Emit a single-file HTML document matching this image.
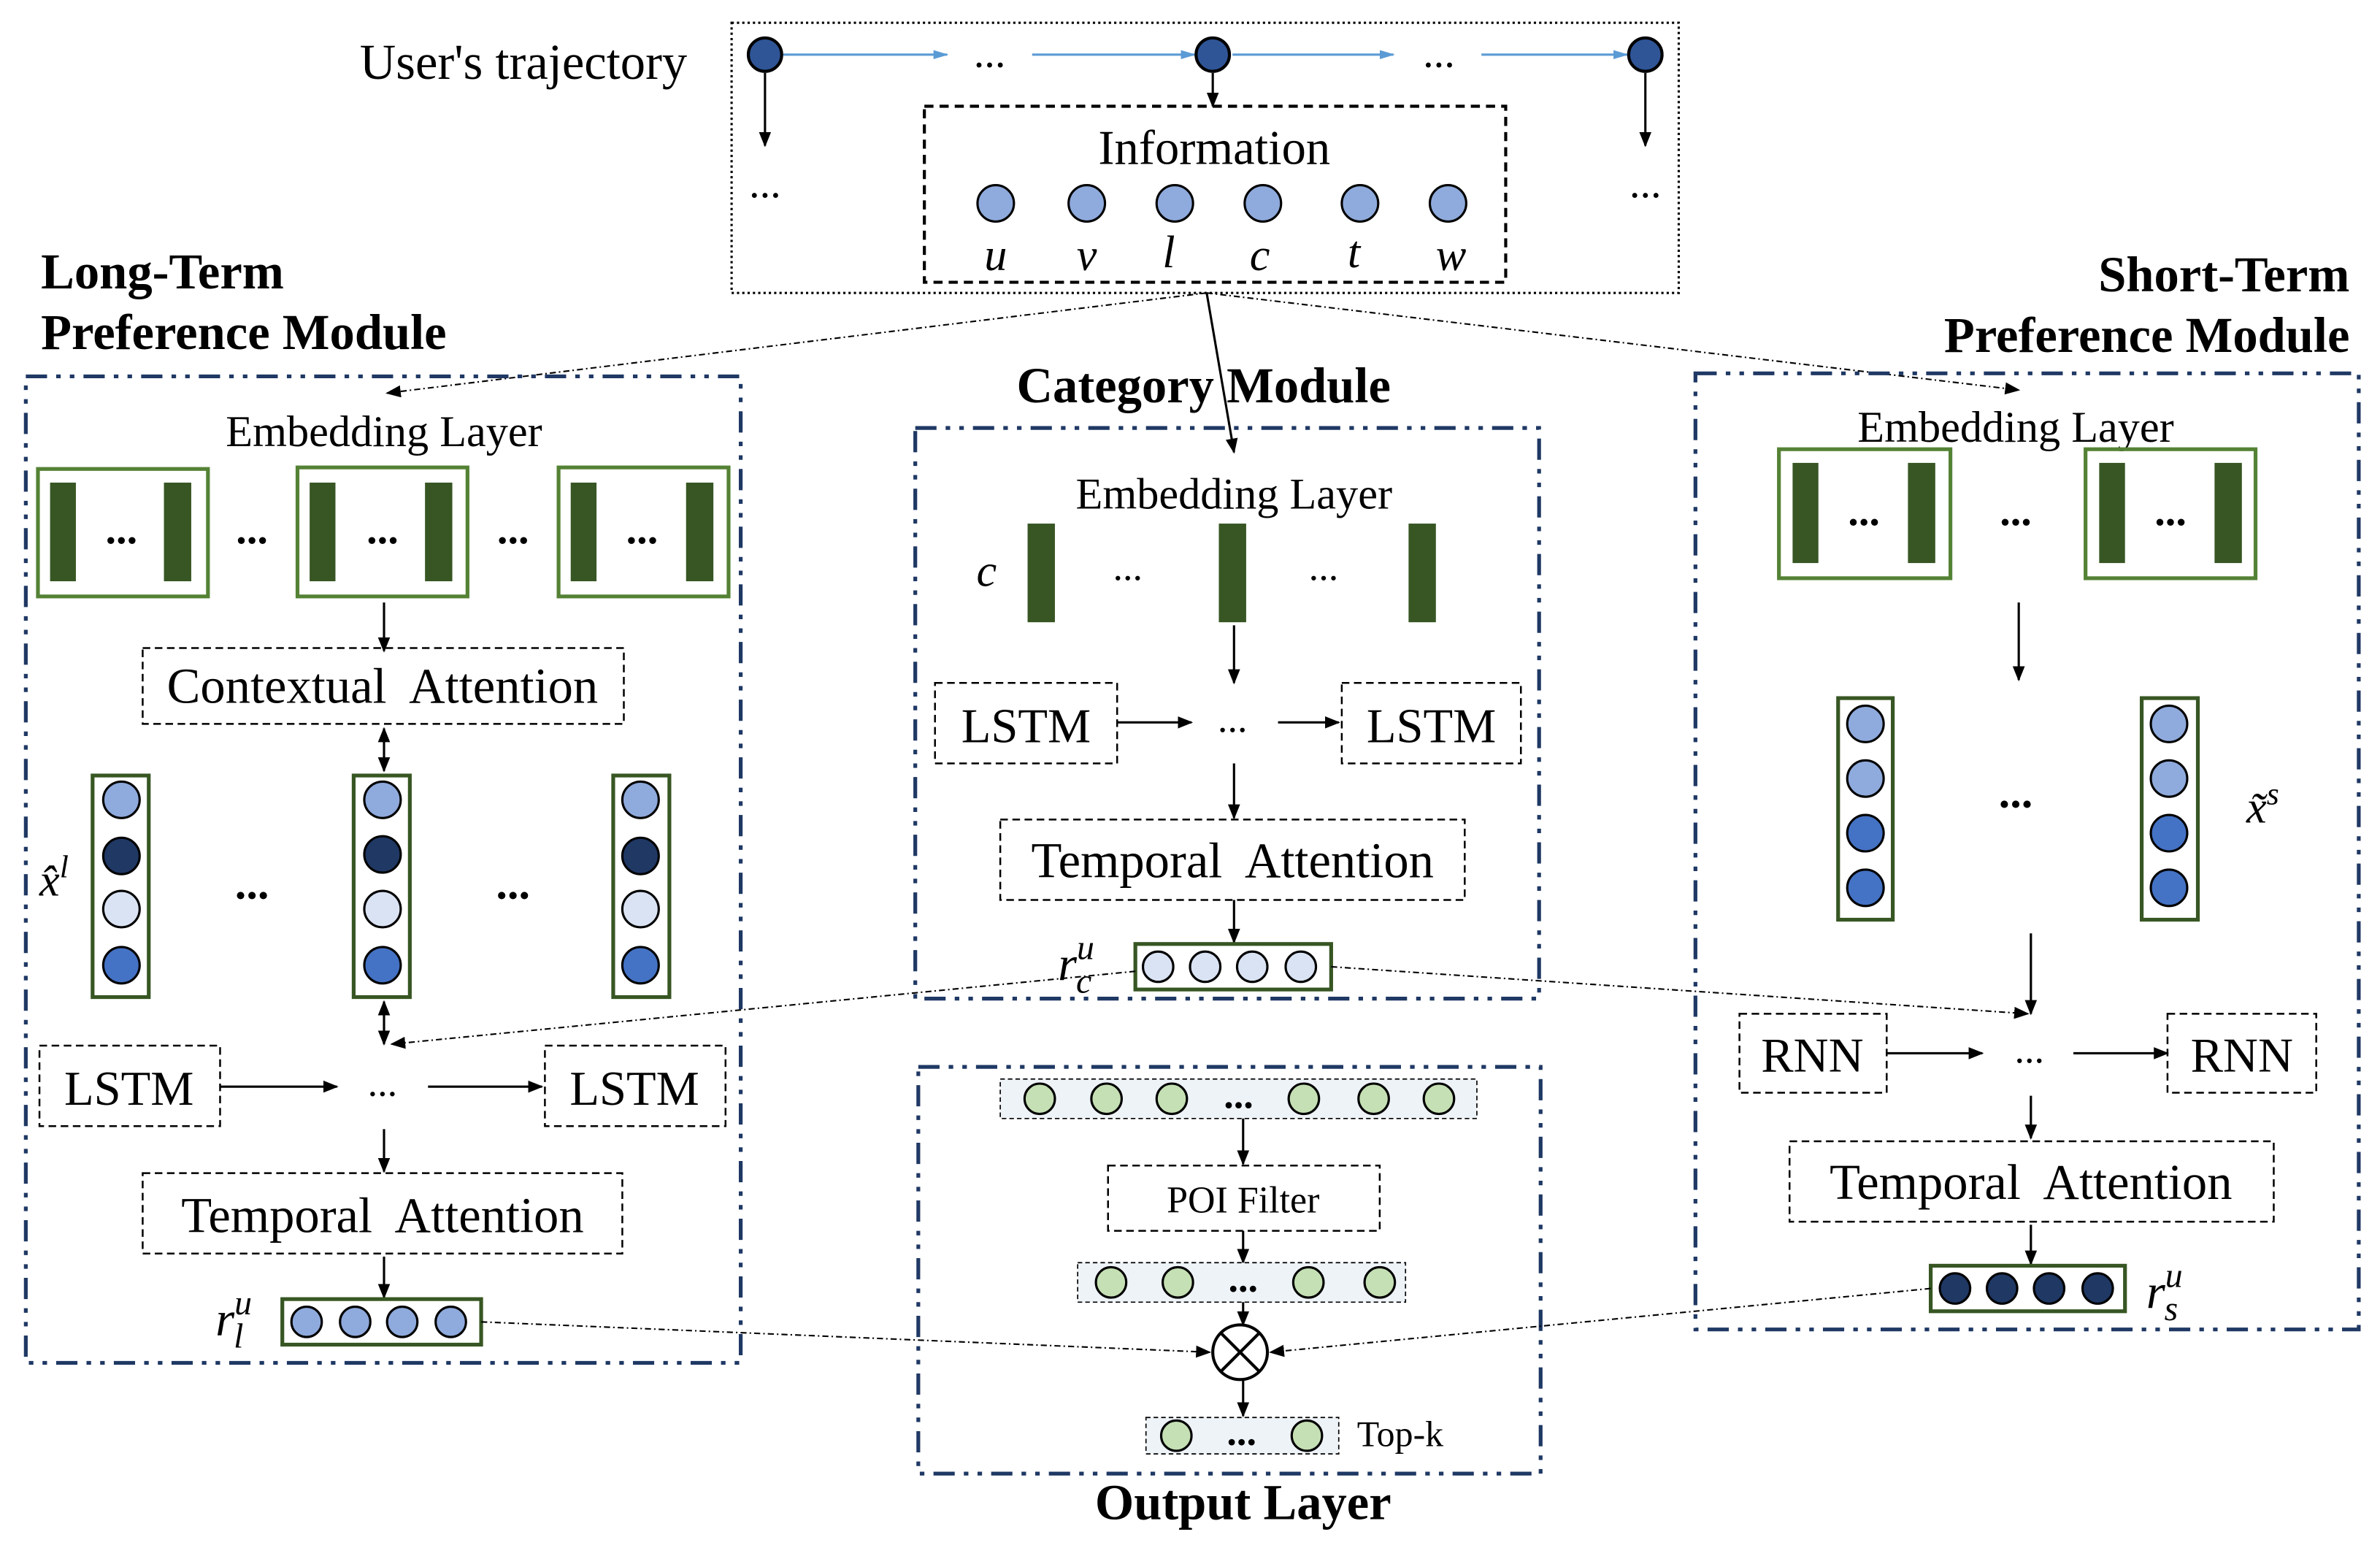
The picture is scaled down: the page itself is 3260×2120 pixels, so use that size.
<!DOCTYPE html>
<html><head><meta charset="utf-8"><style>
html,body{margin:0;padding:0;background:#fff;}
svg{display:block;}
text{font-family:"Liberation Serif",serif;fill:#000;}
</style></head><body>
<svg width="3260" height="2120" viewBox="0 0 1568 1020" preserveAspectRatio="none" xmlns="http://www.w3.org/2000/svg">
<defs>
<marker id="a" markerWidth="10" markerHeight="10" refX="9" refY="5" orient="auto" markerUnits="userSpaceOnUse"><path d="M0,1 L10,5 L0,9 Z" fill="#000"/></marker>
<marker id="as" markerWidth="10" markerHeight="10" refX="1" refY="5" orient="auto" markerUnits="userSpaceOnUse"><path d="M10,1 L0,5 L10,9 Z" fill="#000"/></marker>
<marker id="b" markerWidth="10" markerHeight="10" refX="9" refY="5" orient="auto" markerUnits="userSpaceOnUse"><path d="M0,2 L10,5 L0,8 Z" fill="#5b9bd5"/></marker>
</defs>
<rect width="1568" height="1020" fill="#fff"/>

<!-- TOP -->
<text x="237" y="52" font-size="33">User's trajectory</text>
<rect x="482" y="15" width="624" height="178" fill="none" stroke="#000" stroke-width="1.5" stroke-dasharray="1.5,2"/>
<g stroke="#5b9bd5" stroke-width="1.5" marker-end="url(#b)">
<line x1="516" y1="36" x2="624" y2="36"/><line x1="680" y1="36" x2="787" y2="36"/>
<line x1="812" y1="36" x2="918" y2="36"/><line x1="976" y1="36" x2="1072" y2="36"/></g>
<text x="652" y="44" font-size="28" text-anchor="middle">...</text>
<text x="948" y="44" font-size="28" text-anchor="middle">...</text>
<g fill="#2f5597" stroke="#000" stroke-width="2"><circle cx="504" cy="36" r="11"/><circle cx="799" cy="36" r="11"/><circle cx="1084" cy="36" r="11"/></g>
<g stroke="#000" stroke-width="1.5" marker-end="url(#a)">
<line x1="504" y1="48" x2="504" y2="96"/><line x1="799" y1="48" x2="799" y2="70"/><line x1="1084" y1="48" x2="1084" y2="96"/></g>
<text x="504" y="130" font-size="28" text-anchor="middle">...</text>
<text x="1084" y="130" font-size="28" text-anchor="middle">...</text>
<rect x="609" y="70" width="383" height="116" fill="none" stroke="#000" stroke-width="2" stroke-dasharray="6,4"/>
<text x="800" y="108" font-size="32" text-anchor="middle">Information</text>
<g fill="#8faadc" stroke="#000" stroke-width="1.5">
<circle cx="656" cy="134" r="12"/><circle cx="716" cy="134" r="12"/><circle cx="774" cy="134" r="12"/><circle cx="832" cy="134" r="12"/><circle cx="896" cy="134" r="12"/><circle cx="954" cy="134" r="12"/></g>
<g font-size="30" font-style="italic" text-anchor="middle">
<text x="656" y="178">u</text><text x="716" y="178">v</text><text x="770" y="176">l</text><text x="830" y="178">c</text><text x="892" y="176">t</text><text x="956" y="178">w</text></g>

<g stroke="#000" stroke-width="1" stroke-dasharray="4,2,1,2" fill="none">
<line x1="795" y1="193" x2="255" y2="259" marker-end="url(#a)"/>
<line x1="795" y1="193" x2="1330" y2="257" marker-end="url(#a)"/>
</g>
<line x1="795" y1="193" x2="813" y2="298" stroke="#000" stroke-width="1.5" marker-end="url(#a)"/>

<!-- LONG TERM -->
<text x="27" y="190" font-size="33" font-weight="bold">Long-Term</text>
<text x="27" y="230" font-size="33" font-weight="bold">Preference Module</text>
<rect x="17" y="248" width="471" height="650" fill="none" stroke="#1f3864" stroke-width="2.5" stroke-dasharray="14,6,3,6,3,6"/>
<text x="253" y="294" font-size="29" text-anchor="middle">Embedding Layer</text>
<g fill="none" stroke="#548235" stroke-width="2.5">
<rect x="25" y="309" width="112" height="84"/><rect x="196" y="308" width="112" height="85"/><rect x="368" y="308" width="112" height="85"/></g>
<g fill="#375623">
<rect x="33" y="318" width="17" height="65"/><rect x="108" y="318" width="18" height="65"/>
<rect x="204" y="318" width="17" height="65"/><rect x="280" y="318" width="18" height="65"/>
<rect x="376" y="318" width="17" height="65"/><rect x="452" y="318" width="18" height="65"/></g>
<g font-size="28" text-anchor="middle" font-weight="bold">
<text x="80" y="358">...</text><text x="166" y="358">...</text><text x="252" y="358">...</text><text x="338" y="358">...</text><text x="423" y="358">...</text></g>
<line x1="253" y1="397" x2="253" y2="429" stroke="#000" stroke-width="1.5" marker-end="url(#a)"/>
<rect x="94" y="427" width="317" height="50" fill="none" stroke="#000" stroke-width="1.2" stroke-dasharray="5,3"/>
<text x="252" y="463" font-size="33" text-anchor="middle" xml:space="preserve">Contextual  Attention</text>
<line x1="253" y1="480" x2="253" y2="508" stroke="#000" stroke-width="1.5" marker-end="url(#a)" marker-start="url(#as)"/>
<g fill="none" stroke="#375623" stroke-width="2.5">
<rect x="61" y="511" width="37" height="146"/><rect x="233" y="511" width="37" height="146"/><rect x="404" y="511" width="37" height="146"/></g>
<g stroke="#000" stroke-width="1.5">
<g fill="#8faadc"><circle cx="80" cy="527" r="12"/><circle cx="252" cy="527" r="12"/><circle cx="422" cy="527" r="12"/></g>
<g fill="#1f3864"><circle cx="80" cy="564" r="12"/><circle cx="252" cy="563" r="12"/><circle cx="422" cy="564" r="12"/></g>
<g fill="#dae3f3"><circle cx="80" cy="599" r="12"/><circle cx="252" cy="599" r="12"/><circle cx="422" cy="599" r="12"/></g>
<g fill="#4472c4"><circle cx="80" cy="636" r="12"/><circle cx="252" cy="636" r="12"/><circle cx="422" cy="636" r="12"/></g></g>
<text x="166" y="592" font-size="30" font-weight="bold" text-anchor="middle">...</text>
<text x="338" y="592" font-size="30" font-weight="bold" text-anchor="middle">...</text>
<text x="26" y="590" font-size="30" font-style="italic">x̂<tspan dy="-12" font-size="21">l</tspan></text>
<line x1="253" y1="660" x2="253" y2="688" stroke="#000" stroke-width="1.5" marker-end="url(#a)" marker-start="url(#as)"/>
<rect x="26" y="689" width="119" height="53" fill="none" stroke="#000" stroke-width="1.2" stroke-dasharray="5,3"/>
<rect x="359" y="689" width="119" height="53" fill="none" stroke="#000" stroke-width="1.2" stroke-dasharray="5,3"/>
<text x="85" y="728" font-size="32" text-anchor="middle">LSTM</text>
<text x="418" y="728" font-size="32" text-anchor="middle">LSTM</text>
<line x1="145" y1="716" x2="222" y2="716" stroke="#000" stroke-width="1.5" marker-end="url(#a)"/>
<line x1="282" y1="716" x2="357" y2="716" stroke="#000" stroke-width="1.5" marker-end="url(#a)"/>
<text x="252" y="722" font-size="26" text-anchor="middle">...</text>
<line x1="253" y1="744" x2="253" y2="772" stroke="#000" stroke-width="1.5" marker-end="url(#a)"/>
<rect x="94" y="773" width="316" height="53" fill="none" stroke="#000" stroke-width="1.2" stroke-dasharray="5,3"/>
<text x="252" y="812" font-size="33" text-anchor="middle" xml:space="preserve">Temporal  Attention</text>
<line x1="253" y1="828" x2="253" y2="855" stroke="#000" stroke-width="1.5" marker-end="url(#a)"/>
<text x="142" y="880" font-size="32" font-style="italic">r<tspan dy="-14" font-size="23">u</tspan><tspan dx="-12" dy="22" font-size="23">l</tspan></text>
<rect x="186" y="856" width="131" height="30" fill="none" stroke="#375623" stroke-width="2.5"/>
<g fill="#8faadc" stroke="#000" stroke-width="1.5"><circle cx="202" cy="871" r="10"/><circle cx="234" cy="871" r="10"/><circle cx="265" cy="871" r="10"/><circle cx="297" cy="871" r="10"/></g>

<!-- CATEGORY -->
<text x="793" y="265" font-size="33" font-weight="bold" text-anchor="middle">Category Module</text>
<rect x="603" y="282" width="411" height="376" fill="none" stroke="#1f3864" stroke-width="2.5" stroke-dasharray="14,6,3,6,3,6"/>
<text x="813" y="335" font-size="29" text-anchor="middle">Embedding Layer</text>
<text x="650" y="386" font-size="30" font-style="italic" text-anchor="middle">c</text>
<g fill="#375623"><rect x="677" y="345" width="18" height="65"/><rect x="803" y="345" width="18" height="65"/><rect x="928" y="345" width="18" height="65"/></g>
<text x="743" y="382" font-size="26" text-anchor="middle">...</text>
<text x="872" y="382" font-size="26" text-anchor="middle">...</text>
<line x1="813" y1="412" x2="813" y2="450" stroke="#000" stroke-width="1.5" marker-end="url(#a)"/>
<rect x="616" y="450" width="120" height="53" fill="none" stroke="#000" stroke-width="1.2" stroke-dasharray="5,3"/>
<rect x="884" y="450" width="118" height="53" fill="none" stroke="#000" stroke-width="1.2" stroke-dasharray="5,3"/>
<text x="676" y="489" font-size="32" text-anchor="middle">LSTM</text>
<text x="943" y="489" font-size="32" text-anchor="middle">LSTM</text>
<line x1="736" y1="476" x2="785" y2="476" stroke="#000" stroke-width="1.5" marker-end="url(#a)"/>
<line x1="842" y1="476" x2="882" y2="476" stroke="#000" stroke-width="1.5" marker-end="url(#a)"/>
<text x="812" y="482" font-size="26" text-anchor="middle">...</text>
<line x1="813" y1="503" x2="813" y2="539" stroke="#000" stroke-width="1.5" marker-end="url(#a)"/>
<rect x="659" y="540" width="306" height="53" fill="none" stroke="#000" stroke-width="1.2" stroke-dasharray="5,3"/>
<text x="812" y="578" font-size="33" text-anchor="middle" xml:space="preserve">Temporal  Attention</text>
<line x1="813" y1="593" x2="813" y2="621" stroke="#000" stroke-width="1.5" marker-end="url(#a)"/>
<text x="697" y="646" font-size="32" font-style="italic">r<tspan dy="-14" font-size="23">u</tspan><tspan dx="-12" dy="22" font-size="23">c</tspan></text>
<rect x="748" y="622" width="129" height="30" fill="none" stroke="#375623" stroke-width="2.5"/>
<g fill="#dae3f3" stroke="#000" stroke-width="1.5"><circle cx="763" cy="637" r="10"/><circle cx="794" cy="637" r="10"/><circle cx="825" cy="637" r="10"/><circle cx="857" cy="637" r="10"/></g>

<!-- SHORT TERM -->
<text x="1548" y="192" font-size="33" font-weight="bold" text-anchor="end">Short-Term</text>
<text x="1548" y="232" font-size="33" font-weight="bold" text-anchor="end">Preference Module</text>
<rect x="1117" y="246" width="437" height="630" fill="none" stroke="#1f3864" stroke-width="2.5" stroke-dasharray="14,6,3,6,3,6"/>
<text x="1328" y="291" font-size="29" text-anchor="middle">Embedding Layer</text>
<g fill="none" stroke="#548235" stroke-width="2.5"><rect x="1172" y="296" width="113" height="85"/><rect x="1374" y="296" width="112" height="85"/></g>
<g fill="#375623"><rect x="1181" y="305" width="17" height="66"/><rect x="1257" y="305" width="18" height="66"/><rect x="1383" y="305" width="17" height="66"/><rect x="1459" y="305" width="18" height="66"/></g>
<g font-size="28" text-anchor="middle" font-weight="bold"><text x="1228" y="346">...</text><text x="1328" y="346">...</text><text x="1430" y="346">...</text></g>
<line x1="1330" y1="397" x2="1330" y2="448" stroke="#000" stroke-width="1.5" marker-end="url(#a)"/>
<g fill="none" stroke="#375623" stroke-width="2.5"><rect x="1211" y="460" width="36" height="146"/><rect x="1411" y="460" width="37" height="146"/></g>
<g stroke="#000" stroke-width="1.5">
<g fill="#8faadc"><circle cx="1229" cy="477" r="12"/><circle cx="1229" cy="513" r="12"/><circle cx="1429" cy="477" r="12"/><circle cx="1429" cy="513" r="12"/></g>
<g fill="#4472c4"><circle cx="1229" cy="549" r="12"/><circle cx="1229" cy="585" r="12"/><circle cx="1429" cy="549" r="12"/><circle cx="1429" cy="585" r="12"/></g></g>
<text x="1328" y="532" font-size="30" font-weight="bold" text-anchor="middle">...</text>
<text x="1480" y="542" font-size="30" font-style="italic">x̃<tspan dy="-12" font-size="21">s</tspan></text>
<line x1="1338" y1="615" x2="1338" y2="668" stroke="#000" stroke-width="1.5" marker-end="url(#a)"/>
<rect x="1146" y="668" width="97" height="52" fill="none" stroke="#000" stroke-width="1.2" stroke-dasharray="5,3"/>
<rect x="1428" y="668" width="98" height="52" fill="none" stroke="#000" stroke-width="1.2" stroke-dasharray="5,3"/>
<text x="1194" y="706" font-size="32" text-anchor="middle">RNN</text>
<text x="1477" y="706" font-size="32" text-anchor="middle">RNN</text>
<line x1="1243" y1="694" x2="1306" y2="694" stroke="#000" stroke-width="1.5" marker-end="url(#a)"/>
<line x1="1366" y1="694" x2="1428" y2="694" stroke="#000" stroke-width="1.5" marker-end="url(#a)"/>
<text x="1337" y="700" font-size="26" text-anchor="middle">...</text>
<line x1="1338" y1="722" x2="1338" y2="750" stroke="#000" stroke-width="1.5" marker-end="url(#a)"/>
<rect x="1179" y="752" width="319" height="53" fill="none" stroke="#000" stroke-width="1.2" stroke-dasharray="5,3"/>
<text x="1338" y="790" font-size="33" text-anchor="middle" xml:space="preserve">Temporal  Attention</text>
<line x1="1338" y1="807" x2="1338" y2="833" stroke="#000" stroke-width="1.5" marker-end="url(#a)"/>
<rect x="1272" y="834" width="128" height="30" fill="none" stroke="#375623" stroke-width="2.5"/>
<g fill="#1f3864" stroke="#000" stroke-width="1.5"><circle cx="1288" cy="849" r="10"/><circle cx="1319" cy="849" r="10"/><circle cx="1350" cy="849" r="10"/><circle cx="1382" cy="849" r="10"/></g>
<text x="1414" y="862" font-size="32" font-style="italic">r<tspan dy="-14" font-size="23">u</tspan><tspan dx="-12" dy="22" font-size="23">s</tspan></text>

<!-- OUTPUT -->
<rect x="605" y="703" width="410" height="268" fill="none" stroke="#1f3864" stroke-width="2.5" stroke-dasharray="14,6,3,6,3,6"/>
<text x="819" y="1001" font-size="33" font-weight="bold" text-anchor="middle">Output Layer</text>
<rect x="659" y="711" width="314" height="26" fill="#eef3f8" stroke="#000" stroke-width="0.8" stroke-dasharray="3,2"/>
<g fill="#c5e0b4" stroke="#000" stroke-width="1.5">
<circle cx="685" cy="724" r="10"/><circle cx="729" cy="724" r="10"/><circle cx="772" cy="724" r="10"/><circle cx="859" cy="724" r="10"/><circle cx="905" cy="724" r="10"/><circle cx="948" cy="724" r="10"/></g>
<text x="816" y="730" font-size="26" font-weight="bold" text-anchor="middle">...</text>
<line x1="819" y1="737" x2="819" y2="767" stroke="#000" stroke-width="1.5" marker-end="url(#a)"/>
<rect x="730" y="768" width="179" height="43" fill="none" stroke="#000" stroke-width="1.2" stroke-dasharray="5,3"/>
<text x="819" y="799" font-size="25" text-anchor="middle">POI Filter</text>
<line x1="819" y1="811" x2="819" y2="832" stroke="#000" stroke-width="1.5" marker-end="url(#a)"/>
<rect x="710" y="832" width="216" height="26" fill="#eef3f8" stroke="#000" stroke-width="0.8" stroke-dasharray="3,2"/>
<g fill="#c5e0b4" stroke="#000" stroke-width="1.5"><circle cx="732" cy="845" r="10"/><circle cx="776" cy="845" r="10"/><circle cx="862" cy="845" r="10"/><circle cx="909" cy="845" r="10"/></g>
<text x="819" y="851" font-size="26" font-weight="bold" text-anchor="middle">...</text>
<line x1="819" y1="858" x2="819" y2="873" stroke="#000" stroke-width="1.5" marker-end="url(#a)"/>
<circle cx="817" cy="891" r="18" fill="#fff" stroke="#000" stroke-width="2"/>
<line x1="804" y1="878" x2="830" y2="904" stroke="#000" stroke-width="2"/>
<line x1="830" y1="878" x2="804" y2="904" stroke="#000" stroke-width="2"/>
<line x1="819" y1="909" x2="819" y2="933" stroke="#000" stroke-width="1.5" marker-end="url(#a)"/>
<rect x="755" y="934" width="127" height="24" fill="#eef3f8" stroke="#000" stroke-width="0.8" stroke-dasharray="3,2"/>
<g fill="#c5e0b4" stroke="#000" stroke-width="1.5"><circle cx="775" cy="946" r="10"/><circle cx="861" cy="946" r="10"/></g>
<text x="818" y="952" font-size="26" font-weight="bold" text-anchor="middle">...</text>
<text x="894" y="953" font-size="24">Top-k</text>

<g stroke="#000" stroke-width="1" stroke-dasharray="4,2,1,2" fill="none">
<line x1="317" y1="871" x2="797" y2="891" marker-end="url(#a)"/>
<line x1="1272" y1="849" x2="837" y2="891" marker-end="url(#a)"/>
<line x1="877" y1="637" x2="1336" y2="668" marker-end="url(#a)"/>
<line x1="748" y1="640" x2="258" y2="688" marker-end="url(#a)"/>
</g>
</svg>
</body></html>
